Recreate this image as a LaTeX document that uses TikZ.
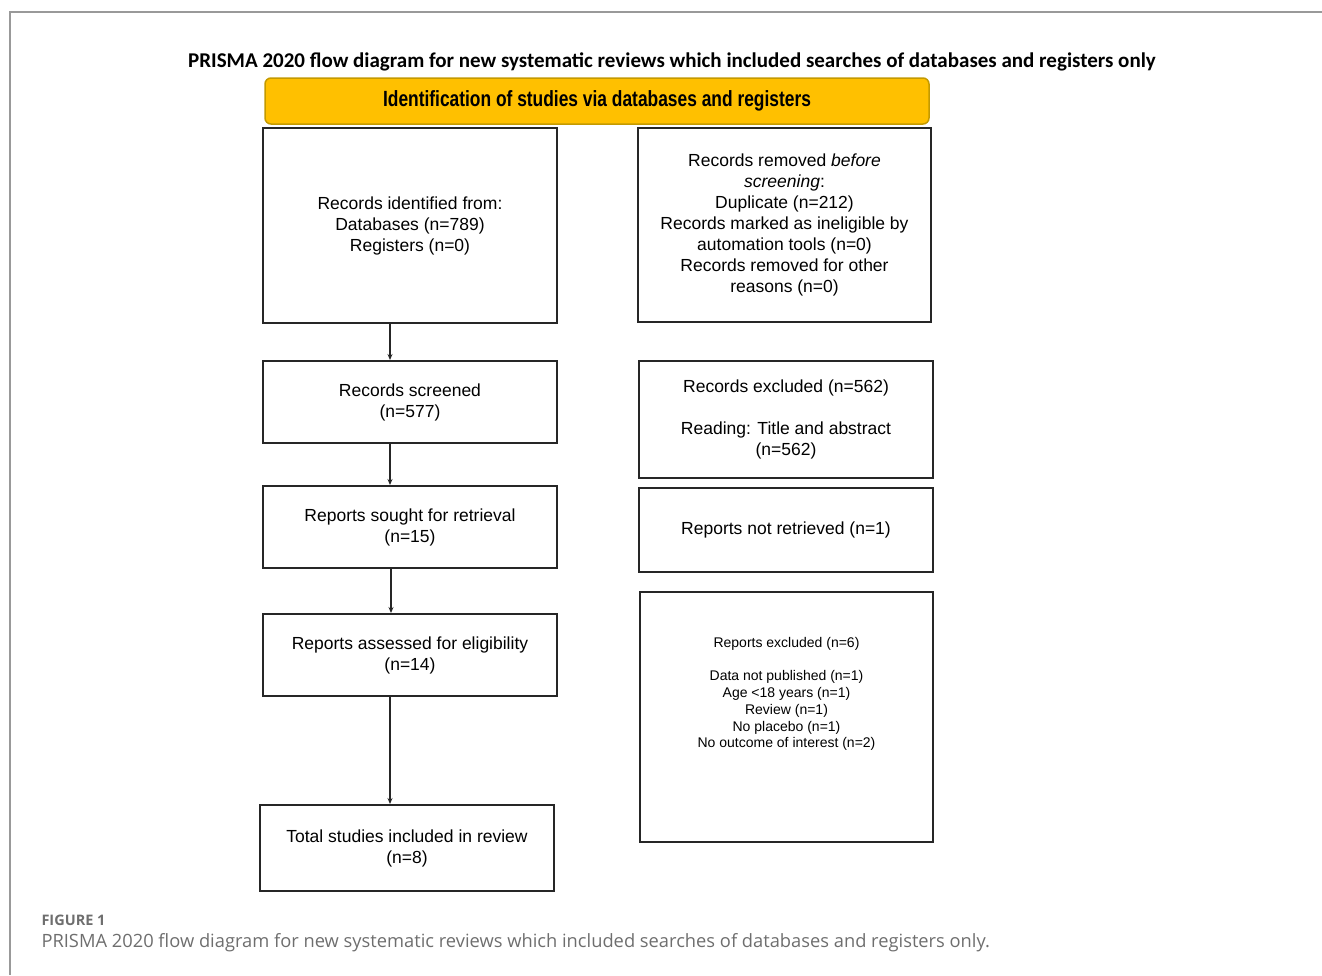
\documentclass[tikz,border=0pt]{standalone}
\usepackage{fontspec}
\setmainfont{Liberation Sans}
\newfontfamily\titlefont{Carlito}
\newfontfamily\narrowfont[FakeStretch=0.79]{Liberation Sans}
\newfontfamily\capfont{Open Sans}
\usetikzlibrary{arrows.meta}

\definecolor{prismayellow}{HTML}{FFC000}
\definecolor{prismagold}{HTML}{C49A00}
\definecolor{capgray}{HTML}{6E6E6E}

\begin{document}
\begin{tikzpicture}[x=1pt, y=-1pt]
  \tikzset{
    flowbox/.style={
      draw=black!85, line width=2pt, minimum width=294pt,
      align=center, inner sep=0pt,
      font=\fontsize{17.5}{21}\selectfont
    },
    flowarrow/.style={
      draw=black!85, line width=1.5pt,
      -{Stealth[length=6pt, width=5pt]}
    },
  }
  \useasboundingbox (0,0) rectangle (1322,975);

  % page frame
  \draw[black!40, line width=1.5pt] (1322,12) -- (10,12) -- (10,975);

  % titles
  \node[font=\titlefont\bfseries\fontsize{21}{24}\selectfont] (title) at (672,62)
    {PRISMA 2020 flow diagram for new systematic reviews which included searches of databases and registers only};
  \node[
    draw=prismagold, fill=prismayellow, line width=1.5pt,
    rounded corners=6pt, minimum width=664pt, minimum height=46pt,
    font=\narrowfont\bfseries\fontsize{22}{26}\selectfont
  ] (ident) at (597,101) {\raisebox{-2pt}{Identification of studies via databases and registers}};

  % main column
  \node[flowbox, minimum height=195pt] (identified) at (410,225.5)
    {Records identified from:\\Databases (n=789)\\Registers (n=0)};
  \node[flowbox, minimum height=82pt] (screened) at (410,402)
    {Records screened\\(n=577)};
  \node[flowbox, minimum height=82pt] (sought) at (410,527)
    {Reports sought for retrieval\\(n=15)};
  \node[flowbox, minimum height=82pt] (assessed) at (410,655)
    {Reports assessed for eligibility\\(n=14)};
  \node[flowbox, minimum height=86pt] (included) at (407,848)
    {Total studies included in review\\(n=8)};

  % side column
  \node[flowbox, minimum width=293pt, minimum height=194pt] (removed) at (784.5,225)
    {Records removed \textit{before}\\\textit{screening}:\\Duplicate (n=212)\\Records marked as ineligible by\\automation tools (n=0)\\Records removed for other\\reasons (n=0)};
  \node[flowbox, minimum height=117pt] (excluded) at (786,419.5)
    {Records excluded (n=562)\\[21pt]Reading: Title and abstract\\(n=562)};
  \node[flowbox, minimum height=84pt] (notretrieved) at (786,530)
    {Reports not retrieved (n=1)};
  \node[flowbox, minimum width=293pt, minimum height=250pt] (repexcl) at (786.5,717) {};
  \node[align=center, font=\fontsize{14}{16.7}\selectfont] (repexcltext) at (786.5,694)
    {Reports excluded (n=6)\\[16.7pt]Data not published (n=1)\\Age <18 years (n=1)\\Review (n=1)\\No placebo (n=1)\\No outcome of interest (n=2)};

  % arrows
  \draw[flowarrow] (identified.south -| 390,0) -- (screened.north -| 390,0);
  \draw[flowarrow] (screened.south -| 390,0) -- (sought.north -| 390,0);
  \draw[flowarrow] (sought.south -| 391,0) -- (assessed.north -| 391,0);
  \draw[flowarrow] (assessed.south -| 390,0) -- (included.north -| 390,0);

  % caption
  \node[anchor=west, text=capgray, font=\capfont\bfseries\fontsize{14.5}{16}\selectfont] (figlabel) at (38,920)
    {FIGURE 1};
  \node[anchor=west, text=capgray, font=\capfont\fontsize{18.3}{21}\selectfont] (caption) at (38,943)
    {PRISMA 2020 flow diagram for new systematic reviews which included searches of databases and registers only.};
\end{tikzpicture}
\end{document}
